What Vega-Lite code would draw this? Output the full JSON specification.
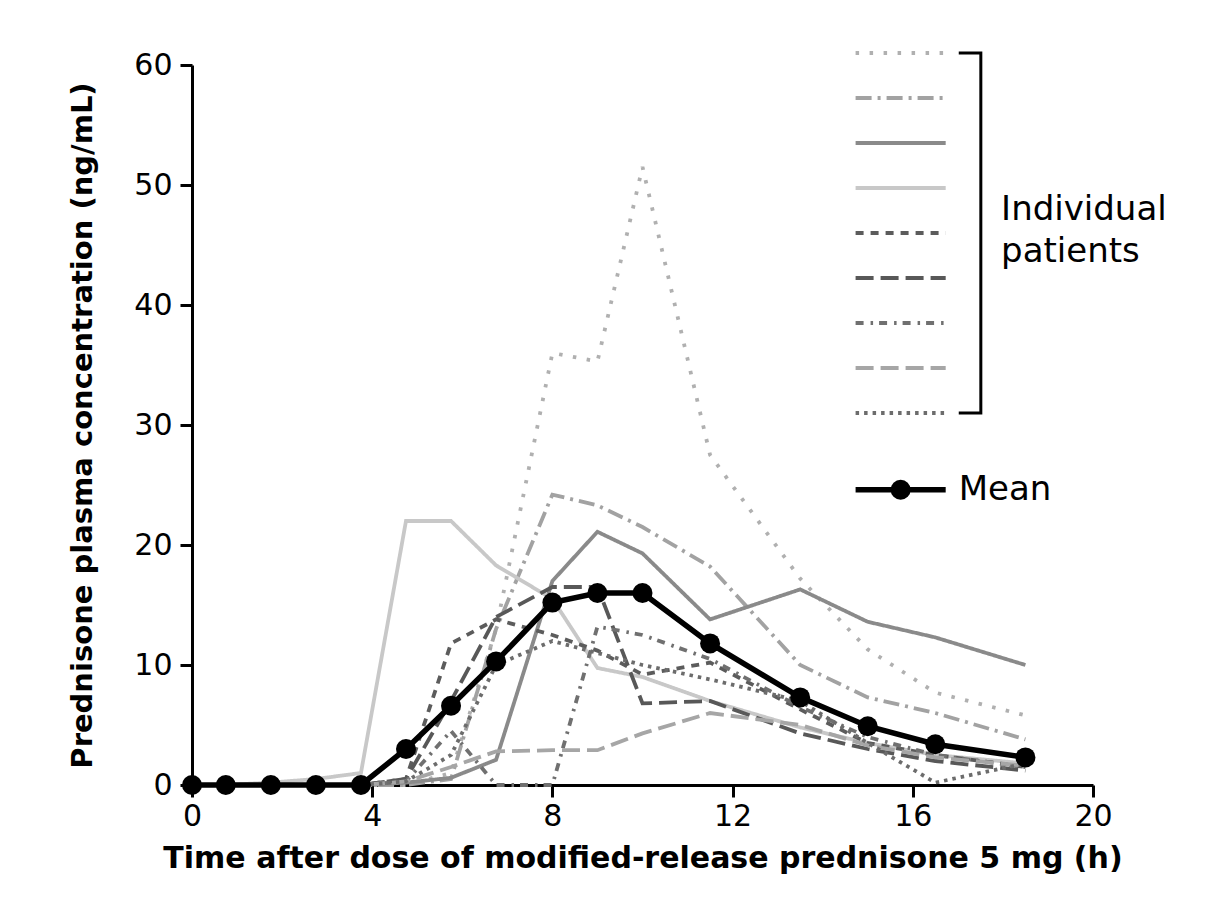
{
  "$schema": "https://vega.github.io/schema/vega-lite/v6.json",
  "autosize": "none",
  "width": 901,
  "height": 720,
  "padding": {"left": 192, "top": 65, "right": 112, "bottom": 134},
  "background": "white",
  "config": {
    "view": {"stroke": null},
    "font": "DejaVu Sans",
    "axis": {
      "domainColor": "black", "domainWidth": 3, "tickColor": "black", "tickWidth": 3, "tickSize": 12,
      "labelFontSize": 30, "labelColor": "black", "labelFont": "DejaVu Sans", "labelFlush": false,
      "titleFontSize": 29, "titleColor": "black", "titleFont": "DejaVu Sans", "titleFontWeight": "bold",
      "grid": false
    }
  },
  "datasets": {
    "pat": [
      {"p":"P1","t":0,"v":0},{"p":"P1","t":0.75,"v":0},{"p":"P1","t":1.75,"v":0},{"p":"P1","t":2.75,"v":0},{"p":"P1","t":3.75,"v":0},{"p":"P1","t":4.75,"v":0},{"p":"P1","t":5.75,"v":1.0},{"p":"P1","t":6.75,"v":13},{"p":"P1","t":8,"v":36},{"p":"P1","t":9,"v":35.3},{"p":"P1","t":10,"v":51.5},{"p":"P1","t":11.5,"v":27.5},{"p":"P1","t":13.5,"v":17.2},{"p":"P1","t":15,"v":11.3},{"p":"P1","t":16.5,"v":7.7},{"p":"P1","t":18.5,"v":5.8},
      {"p":"P2","t":0,"v":0},{"p":"P2","t":0.75,"v":0},{"p":"P2","t":1.75,"v":0},{"p":"P2","t":2.75,"v":0},{"p":"P2","t":3.75,"v":0},{"p":"P2","t":4.75,"v":0},{"p":"P2","t":5.75,"v":0.5},{"p":"P2","t":6.75,"v":13},{"p":"P2","t":8,"v":24.2},{"p":"P2","t":9,"v":23.3},{"p":"P2","t":10,"v":21.5},{"p":"P2","t":11.5,"v":18.2},{"p":"P2","t":13.5,"v":10},{"p":"P2","t":15,"v":7.3},{"p":"P2","t":16.5,"v":6.0},{"p":"P2","t":18.5,"v":3.8},
      {"p":"P3","t":0,"v":0},{"p":"P3","t":0.75,"v":0},{"p":"P3","t":1.75,"v":0},{"p":"P3","t":2.75,"v":0},{"p":"P3","t":3.75,"v":0},{"p":"P3","t":4.75,"v":0.2},{"p":"P3","t":5.75,"v":0.6},{"p":"P3","t":6.75,"v":2.1},{"p":"P3","t":8,"v":17},{"p":"P3","t":9,"v":21.1},{"p":"P3","t":10,"v":19.3},{"p":"P3","t":11.5,"v":13.8},{"p":"P3","t":13.5,"v":16.3},{"p":"P3","t":15,"v":13.6},{"p":"P3","t":16.5,"v":12.3},{"p":"P3","t":18.5,"v":10.0},
      {"p":"P4","t":0,"v":0},{"p":"P4","t":0.75,"v":0},{"p":"P4","t":1.75,"v":0.2},{"p":"P4","t":2.75,"v":0.5},{"p":"P4","t":3.75,"v":1.0},{"p":"P4","t":4.75,"v":22},{"p":"P4","t":5.75,"v":22},{"p":"P4","t":6.75,"v":18.3},{"p":"P4","t":8,"v":15.5},{"p":"P4","t":9,"v":9.75},{"p":"P4","t":10,"v":9.0},{"p":"P4","t":11.5,"v":7.0},{"p":"P4","t":13.5,"v":4.8},{"p":"P4","t":15,"v":3.5},{"p":"P4","t":16.5,"v":2.5},{"p":"P4","t":18.5,"v":1.8},
      {"p":"P5","t":0,"v":0},{"p":"P5","t":0.75,"v":0},{"p":"P5","t":1.75,"v":0},{"p":"P5","t":2.75,"v":0},{"p":"P5","t":3.75,"v":0},{"p":"P5","t":4.75,"v":0.5},{"p":"P5","t":5.75,"v":11.8},{"p":"P5","t":6.75,"v":13.8},{"p":"P5","t":8,"v":12.5},{"p":"P5","t":9,"v":11.2},{"p":"P5","t":10,"v":9.2},{"p":"P5","t":11.5,"v":10.2},{"p":"P5","t":13.5,"v":6.3},{"p":"P5","t":15,"v":3.5},{"p":"P5","t":16.5,"v":2.5},{"p":"P5","t":18.5,"v":1.5},
      {"p":"P6","t":0,"v":0},{"p":"P6","t":0.75,"v":0},{"p":"P6","t":1.75,"v":0},{"p":"P6","t":2.75,"v":0},{"p":"P6","t":3.75,"v":0},{"p":"P6","t":4.75,"v":0.5},{"p":"P6","t":5.75,"v":7},{"p":"P6","t":6.75,"v":14},{"p":"P6","t":8,"v":16.5},{"p":"P6","t":9,"v":16.5},{"p":"P6","t":10,"v":6.8},{"p":"P6","t":11.5,"v":7.0},{"p":"P6","t":13.5,"v":4.3},{"p":"P6","t":15,"v":3.0},{"p":"P6","t":16.5,"v":2.0},{"p":"P6","t":18.5,"v":1.2},
      {"p":"P7","t":0,"v":0},{"p":"P7","t":0.75,"v":0},{"p":"P7","t":1.75,"v":0},{"p":"P7","t":2.75,"v":0},{"p":"P7","t":3.75,"v":0},{"p":"P7","t":4.75,"v":0.3},{"p":"P7","t":5.75,"v":4.5},{"p":"P7","t":6.75,"v":0},{"p":"P7","t":8,"v":0},{"p":"P7","t":9,"v":13.2},{"p":"P7","t":10,"v":12.5},{"p":"P7","t":11.5,"v":10.5},{"p":"P7","t":13.5,"v":6.5},{"p":"P7","t":15,"v":4.0},{"p":"P7","t":16.5,"v":2.5},{"p":"P7","t":18.5,"v":1.5},
      {"p":"P8","t":0,"v":0},{"p":"P8","t":0.75,"v":0},{"p":"P8","t":1.75,"v":0},{"p":"P8","t":2.75,"v":0},{"p":"P8","t":3.75,"v":0},{"p":"P8","t":4.75,"v":0.3},{"p":"P8","t":5.75,"v":1.5},{"p":"P8","t":6.75,"v":2.8},{"p":"P8","t":8,"v":2.9},{"p":"P8","t":9,"v":2.9},{"p":"P8","t":10,"v":4.3},{"p":"P8","t":11.5,"v":6.0},{"p":"P8","t":13.5,"v":5.0},{"p":"P8","t":15,"v":3.3},{"p":"P8","t":16.5,"v":2.3},{"p":"P8","t":18.5,"v":1.6},
      {"p":"P9","t":0,"v":0},{"p":"P9","t":0.75,"v":0},{"p":"P9","t":1.75,"v":0},{"p":"P9","t":2.75,"v":0},{"p":"P9","t":3.75,"v":0},{"p":"P9","t":4.75,"v":0.3},{"p":"P9","t":5.75,"v":2.5},{"p":"P9","t":6.75,"v":10},{"p":"P9","t":8,"v":12},{"p":"P9","t":9,"v":11},{"p":"P9","t":10,"v":10},{"p":"P9","t":11.5,"v":8.8},{"p":"P9","t":13.5,"v":7},{"p":"P9","t":15,"v":3.5},{"p":"P9","t":16.5,"v":0.2},{"p":"P9","t":18.5,"v":1.8}
    ],
    "mean": [
      {"t":0,"v":0},{"t":0.75,"v":0},{"t":1.75,"v":0},{"t":2.75,"v":0},{"t":3.75,"v":0},{"t":4.75,"v":3.0},{"t":5.75,"v":6.6},{"t":6.75,"v":10.3},{"t":8,"v":15.2},{"t":9,"v":16.0},{"t":10,"v":16.0},{"t":11.5,"v":11.8},{"t":13.5,"v":7.3},{"t":15,"v":4.9},{"t":16.5,"v":3.4},{"t":18.5,"v":2.3}
    ],
    "leg": [
      {"p":"P1","t":14.73,"v":61},{"p":"P1","t":16.73,"v":61},
      {"p":"P2","t":14.73,"v":57.25},{"p":"P2","t":16.73,"v":57.25},
      {"p":"P3","t":14.73,"v":53.5},{"p":"P3","t":16.73,"v":53.5},
      {"p":"P4","t":14.73,"v":49.75},{"p":"P4","t":16.73,"v":49.75},
      {"p":"P5","t":14.73,"v":46},{"p":"P5","t":16.73,"v":46},
      {"p":"P6","t":14.73,"v":42.25},{"p":"P6","t":16.73,"v":42.25},
      {"p":"P7","t":14.73,"v":38.5},{"p":"P7","t":16.73,"v":38.5},
      {"p":"P8","t":14.73,"v":34.75},{"p":"P8","t":16.73,"v":34.75},
      {"p":"P9","t":14.73,"v":31},{"p":"P9","t":16.73,"v":31}
    ],
    "bracket": [
      {"o":1,"t":17.02,"v":61},{"o":2,"t":17.51,"v":61},{"o":3,"t":17.51,"v":31},{"o":4,"t":17.02,"v":31}
    ],
    "meanleg": [
      {"t":14.73,"v":24.6},{"t":16.73,"v":24.6}
    ],
    "labels": [
      {"t":17.96,"v":47.9,"txt":"Individual"},
      {"t":17.96,"v":44.4,"txt":"patients"},
      {"t":17.02,"v":24.6,"txt":"Mean"}
    ]
  },
  "encoding": {
    "x": {"field": "t", "type": "quantitative", "scale": {"domain": [0, 20]},
      "axis": {"values": [0,4,8,12,16,20], "title": "Time after dose of modified-release prednisone 5 mg (h)", "labelPadding": 4, "titlePadding": 12, "titleFontSize": 30}},
    "y": {"field": "v", "type": "quantitative", "scale": {"domain": [0, 60]},
      "axis": {"values": [0,10,20,30,40,50,60], "title": "Prednisone plasma concentration (ng/mL)", "labelPadding": 8, "titlePadding": 36}}
  },
  "layer": [
    {
      "data": {"name": "pat"},
      "mark": {"type": "line", "strokeWidth": 3.8, "clip": false},
      "encoding": {
        "color": {"field": "p", "type": "nominal", "legend": null,
          "scale": {"domain": ["P1","P2","P3","P4","P5","P6","P7","P8","P9"],
            "range": ["#b0b0b0","#a2a2a2","#8a8a8a","#c8c8c8","#5c5c5c","#585858","#707070","#a6a6a6","#6c6c6c"]}},
        "strokeDash": {"field": "p", "type": "nominal", "legend": null,
          "scale": {"domain": ["P1","P2","P3","P4","P5","P6","P7","P8","P9"],
            "range": [[3.5,10.5],[16,6,3,6],[1,0],[1,0],[8,7],[18,7],[8,7,2.5,6],[18,7],[3.5,5]]}}
      }
    },
    {
      "data": {"name": "leg"},
      "mark": {"type": "line", "strokeWidth": 3.8, "clip": false},
      "encoding": {
        "color": {"field": "p", "type": "nominal", "legend": null},
        "strokeDash": {"field": "p", "type": "nominal", "legend": null}
      }
    },
    {
      "data": {"name": "bracket"},
      "mark": {"type": "line", "strokeWidth": 3, "color": "black", "clip": false},
      "encoding": {"order": {"field": "o"}}
    },
    {
      "data": {"name": "mean"},
      "mark": {"type": "line", "strokeWidth": 5.5, "color": "black", "clip": false},
      "encoding": {}
    },
    {
      "data": {"name": "mean"},
      "mark": {"type": "point", "filled": true, "size": 400, "color": "black", "opacity": 1, "clip": false},
      "encoding": {}
    },
    {
      "data": {"name": "meanleg"},
      "mark": {"type": "line", "strokeWidth": 5.5, "color": "black", "clip": false},
      "encoding": {}
    },
    {
      "data": {"values": [{"t": 15.73, "v": 24.6}]},
      "mark": {"type": "point", "filled": true, "size": 400, "color": "black", "opacity": 1, "clip": false},
      "encoding": {}
    },
    {
      "data": {"name": "labels"},
      "mark": {"type": "text", "align": "left", "baseline": "middle", "fontSize": 34, "color": "black", "font": "DejaVu Sans"},
      "encoding": {"text": {"field": "txt"}}
    }
  ]
}
